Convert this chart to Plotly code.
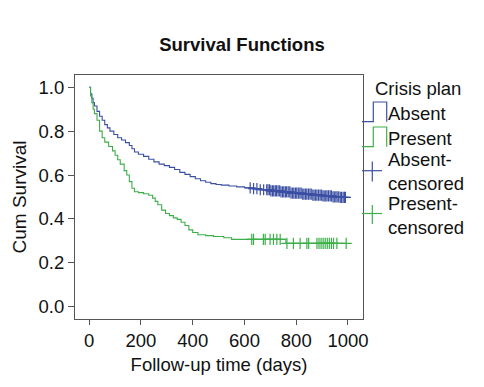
import plotly.graph_objects as go

# ---------------- data ----------------
absent_time = [0, 5, 10, 15, 20, 30, 40, 50, 60, 70, 80, 95, 110, 125, 140, 155, 165, 175,
               190, 210, 230, 250, 270, 290, 310, 330, 350, 370, 390, 410, 430, 450, 470,
               490, 510, 540, 570, 600, 630, 660, 700, 740, 780, 820, 860, 900, 940, 970]
absent_surv = [1.0, 0.97, 0.95, 0.93, 0.915, 0.89, 0.868, 0.85, 0.83, 0.815, 0.80, 0.785,
               0.77, 0.76, 0.748, 0.735, 0.72, 0.705, 0.695, 0.685, 0.672, 0.66, 0.65, 0.643,
               0.635, 0.625, 0.612, 0.603, 0.593, 0.583, 0.574, 0.567, 0.561, 0.557, 0.554,
               0.55, 0.546, 0.542, 0.538, 0.533, 0.528, 0.523, 0.518, 0.513, 0.509, 0.505,
               0.501, 0.498]
absent_censored = [622, 635, 648, 661, 674, 686, 691, 697, 702, 708, 713, 719, 724, 730, 736,
                   741, 747, 752, 758, 763, 769, 775, 780, 786, 791, 797, 802, 808, 814, 819,
                   825, 830, 836, 841, 847, 853, 858, 864, 869, 875, 880, 886, 892, 897, 903,
                   908, 914, 919, 925, 931, 936, 942, 947, 953, 958, 964, 970, 975, 981, 986, 990]

present_time = [0, 5, 10, 15, 20, 30, 40, 50, 60, 75, 90, 100, 110, 120, 135, 145, 155, 165,
                175, 190, 210, 230, 245, 255, 265, 280, 295, 310, 325, 340, 355, 370, 385,
                400, 420, 450, 480, 520, 550, 760]
present_surv = [1.0, 0.96, 0.93, 0.90, 0.88, 0.85, 0.80, 0.77, 0.75, 0.73, 0.71, 0.69, 0.67,
                0.65, 0.62, 0.60, 0.57, 0.54, 0.524, 0.52, 0.515, 0.508, 0.495, 0.48, 0.465,
                0.44, 0.425, 0.415, 0.405, 0.398, 0.385, 0.37, 0.35, 0.338, 0.328, 0.324,
                0.32, 0.314, 0.307, 0.289]
present_censored = [628, 635, 673, 680, 699, 712, 725, 738, 764, 789, 815, 841, 848, 880, 888,
                    896, 904, 912, 920, 928, 936, 944, 957, 993]

x_ticks = [0, 200, 400, 600, 800, 1000]
y_ticks = [0.0, 0.2, 0.4, 0.6, 0.8, 1.0]

BLUE = "#3b4fa3"
GREEN = "#3daf4a"
FONT = "Arial, Liberation Sans, sans-serif"


def surv_at(times, survs, t):
    s = survs[0]
    for ti, si in zip(times, survs):
        if ti <= t:
            s = si
    return s


fig = go.Figure()
for times, survs, cens, col in [(absent_time, absent_surv, absent_censored, BLUE),
                                (present_time, present_surv, present_censored, GREEN)]:
    xs = times + [max(cens)]
    ys = survs + [survs[-1]]
    fig.add_trace(go.Scatter(x=xs, y=ys, mode="lines", line=dict(color=col, width=1.1, shape="hv"),
                             showlegend=False, hoverinfo="skip"))
    fig.add_trace(go.Scatter(x=cens, y=[surv_at(times, survs, c) for c in cens], mode="markers",
                             marker=dict(symbol="cross-thin", size=8, line=dict(color=col, width=1.2)),
                             showlegend=False, hoverinfo="skip"))

# ---------------- layout ----------------
W, H = 484, 387
L, R, T, B = 75, 121, 75, 68


def px(x):
    return (x - L) / (W - L - R)


def py(y):
    return (H - B - y) / (H - T - B)


shapes = []
annotations = []
# legend step symbols
for col, ybot, ytop in [(BLUE, 121.7, 102.0), (GREEN, 146.7, 127.0)]:
    pts = [(362, ybot), (373.3, ybot), (373.3, ytop), (386.7, ytop), (386.7, ybot)]
    path = "M " + " L ".join(f"{px(a):.5f},{py(b):.5f}" for a, b in pts)
    shapes.append(dict(type="path", path=path, xref="paper", yref="paper",
                       line=dict(color=col, width=1.2)))
# legend plus symbols
for col, yc, y0, y1 in [(BLUE, 170.7, 161.5, 181.5), (GREEN, 213.5, 205, 224)]:
    shapes.append(dict(type="line", xref="paper", yref="paper", x0=px(362), x1=px(382),
                       y0=py(yc), y1=py(yc), line=dict(color=col, width=1.2)))
    shapes.append(dict(type="line", xref="paper", yref="paper", x0=px(372.3), x1=px(372.3),
                       y0=py(y0), y1=py(y1), line=dict(color=col, width=1.2)))

legend_texts = [("Crisis plan", 373, 88), ("Absent", 386, 113.5), ("Present", 386, 138.5),
                ("Absent-<br>censored", 386, 171.5), ("Present-<br>censored", 386, 215)]
for txt, x, y in legend_texts:
    annotations.append(dict(text=txt, x=px(x), y=py(y), xref="paper", yref="paper",
                            xanchor="left", yanchor="middle", showarrow=False, align="left",
                            font=dict(family=FONT, size=18.5, color="#111111")))

fig.update_layout(
    width=W, height=H,
    margin=dict(l=L, r=R, t=T, b=B),
    paper_bgcolor="white", plot_bgcolor="white",
    title=dict(text="<b>Survival Functions</b>", x=0.5, xanchor="center", y=1 - 45 / H,
               yanchor="middle", font=dict(family=FONT, size=18.5, color="#111111")),
    font=dict(family=FONT, size=16, color="#111111"),
    shapes=shapes, annotations=annotations,
    showlegend=False,
)
fig.update_xaxes(range=[-55, 1058], tickvals=x_ticks, ticktext=[str(v) for v in x_ticks],
                 showgrid=False, zeroline=False, showline=True, linecolor="#555555", linewidth=1.2,
                 mirror=True, ticks="outside", ticklen=5, tickcolor="#555555",
                 title=dict(text="Follow-up time (days)", standoff=7, font=dict(size=18.5)),
                 tickfont=dict(size=18.5))
fig.update_yaxes(range=[-0.056, 1.056], tickvals=y_ticks, ticktext=[f"{v:.1f}" for v in y_ticks],
                 showgrid=False, zeroline=False, showline=True, linecolor="#555555", linewidth=1.2,
                 mirror=True, ticks="outside", ticklen=6, tickcolor="#555555",
                 title=dict(text="Cum Survival", standoff=6, font=dict(size=19)),
                 tickfont=dict(size=18.5))

fig.write_html("out.html", config={"displayModeBar": False},
               post_script="document.body.style.margin='0';")
